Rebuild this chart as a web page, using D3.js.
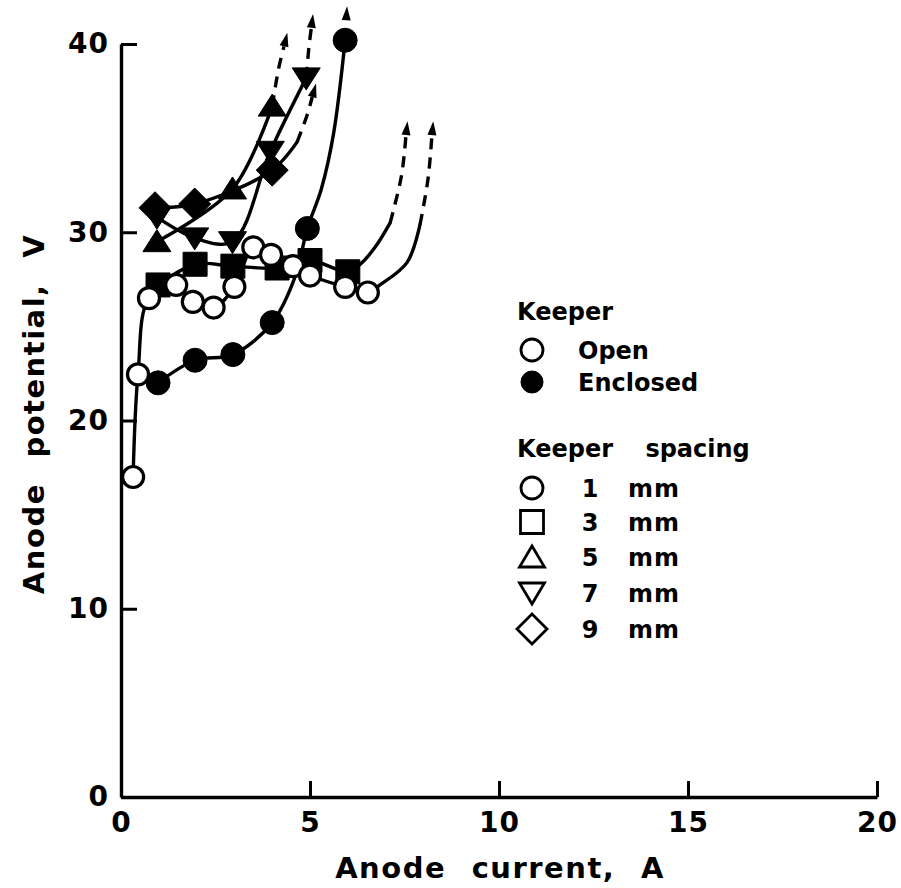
<!DOCTYPE html>
<html>
<head>
<meta charset="utf-8">
<script src="https://cdn.jsdelivr.net/npm/d3@7"></script>
<style>
  body { margin: 0; background: #fff; }
  svg { display: block; }
  text { font-family: "DejaVu Sans", sans-serif; font-weight: bold; fill: #000; }
</style>
</head>
<body>
<svg id="chart" width="901" height="888"></svg>
<script>
// ---- axis ticks ----
const xTicks = [0, 5, 10, 15, 20];
const yTicks = [0, 10, 20, 30, 40];

// ---- measured points: [anode current A, anode potential V] ----
// open keeper, 1 mm spacing
const open1mm = [[0.32,17.0],[0.45,22.45],[0.74,26.5],[1.46,27.2],[1.9,26.3],[2.45,26.0],[3.0,27.1],
                 [3.5,29.2],[3.97,28.8],[4.55,28.2],[5.0,27.7],[5.93,27.1],[6.53,26.8]];
// enclosed keeper, 1 mm spacing
const enclosed1mm = [[0.98,22.0],[1.96,23.2],[2.96,23.5],[4.0,25.2],[4.93,30.2],[5.93,40.2]];
// enclosed keeper, 3 mm spacing
const enclosed3mm = [[0.98,27.2],[1.96,28.3],[2.96,28.2],[4.13,28.1],[5.0,28.5],[6.0,27.9]];
// enclosed keeper, 5 mm spacing
const enclosed5mm = [[0.95,29.5],[2.95,32.3],[4.0,36.7]];
// enclosed keeper, 7 mm spacing
const enclosed7mm = [[0.95,30.8],[1.95,29.7],[2.95,29.5],[3.95,34.3],[4.9,38.2]];
// enclosed keeper, 9 mm spacing
const enclosed9mm = [[0.9,31.3],[1.95,31.5],[4.0,33.3]];

// ---- faired curves (solid) and their extrapolations (dashed, ending in an arrow) ----
const open1mmCurve = open1mm.concat([[6.85,27.2],[7.57,28.4],[7.91,30.4]]);
const open1mmExtra = [[7.91,30.4],[8.12,32.8],[8.26,35.9]];
const enclosed1mmCurve = [[0.98,22.0],[1.96,23.2],[2.96,23.5],[4.0,25.2],[4.6,27.6],[4.93,30.2],
                          [5.3,32.3],[5.62,35.2],[5.93,40.2]];
const enclosed1mmExtra = [[5.95,41.0],[5.98,42.0]];
const enclosed3mmCurve = enclosed3mm.concat([[6.33,28.3],[6.72,29.2],[7.12,30.5]]);
const enclosed3mmExtra = [[7.12,30.5],[7.42,33.0],[7.58,35.9]];
const enclosed5mmCurve = enclosed5mm;
const enclosed5mmExtra = [[4.0,36.7],[4.17,38.7],[4.4,40.6]];
const enclosed7mmCurve = enclosed7mm;
const enclosed7mmExtra = [[4.9,38.2],[4.97,39.8],[5.08,41.6]];
const enclosed9mmCurve = enclosed9mm.concat([[4.66,34.8]]);
const enclosed9mmExtra = [[4.66,34.8],[4.92,36.2],[5.16,37.9]];

// ---- legend ----
const keeperTitle = "Keeper";
const keeperLabels = ["Open", "Enclosed"];
const spacingTitle = "Keeper spacing";
const spacingValues = ["1", "3", "5", "7", "9"];
const spacingUnit = "mm";
const xTitle = "Anode current, A";
const yTitle = "Anode potential, V";

// ---- layout ----
const svg = d3.select("#chart");
const x = d3.scaleLinear().domain([0, 20]).range([121, 877]);
const y = d3.scaleLinear().domain([0, 40]).range([797, 44]);

// marker shapes, centred on the origin
function shape(kind, fill) {
  switch (kind) {
    case "circle": { const r = fill ? 12 : 10.5; return d3.symbol(d3.symbolCircle, Math.PI * r * r)(); }
    case "square": return "M-12,-12H12V12H-12Z";
    case "up": return "M0,-12L14,10L-14,10Z";
    case "down": return "M0,12L14,-10L-14,-10Z";
    case "diamond": return "M0,-16L16,0L0,16L-16,0Z";
  }
}

// axes
const yAxis = d3.axisLeft(y).tickValues(yTicks).tickSizeInner(-16).tickSizeOuter(0).tickPadding(12);
const xAxis = d3.axisBottom(x).tickValues(xTicks).tickSizeInner(-16).tickSizeOuter(0).tickPadding(15);

const gy = svg.append("g").attr("transform", `translate(${x(0)},0)`).call(yAxis);
const gx = svg.append("g").attr("transform", `translate(0,${y(0)})`).call(xAxis);
[gx, gy].forEach(g => {
  g.selectAll("path.domain").attr("stroke", "#000").attr("stroke-width", 3.4);
  g.selectAll(".tick line").attr("stroke", "#000").attr("stroke-width", 3);
  g.selectAll(".tick text").attr("font-family", "DejaVu Sans").attr("font-weight", "bold")
    .attr("font-size", 28).attr("letter-spacing", 1).attr("fill", "#000");
});

svg.append("text").attr("x", 500).attr("y", 878).attr("text-anchor", "middle")
  .attr("font-size", 29).attr("letter-spacing", 1.5).attr("word-spacing", 14).text(xTitle);
svg.append("text").attr("transform", "translate(44,414) rotate(-90)").attr("text-anchor", "middle")
  .attr("font-size", 29).attr("letter-spacing", 1.5).attr("word-spacing", 14).text(yTitle);

// curves
const curve = d3.line().x(d => x(d[0])).y(d => y(d[1])).curve(d3.curveCatmullRom.alpha(0.5));
const plot = svg.append("g");

function drawSeries(curvePts, extraPts) {
  plot.append("path").attr("d", curve(curvePts)).attr("fill", "none")
    .attr("stroke", "#000").attr("stroke-width", 3.4).attr("stroke-linecap", "round");
  const n = extraPts.length;
  const tip = extraPts[n - 1], prev = extraPts[n - 2];
  const tx = x(tip[0]), ty = y(tip[1]);
  const ang = Math.atan2(ty - y(prev[1]), tx - x(prev[0]));
  const L = 14;
  // dashed line stops where the arrowhead begins
  const dashed = extraPts.slice(0, n - 1).map(p => [x(p[0]), y(p[1])]);
  dashed.push([tx - L * Math.cos(ang), ty - L * Math.sin(ang)]);
  if (dashed.length > 2 || Math.hypot(dashed[1][0] - dashed[0][0], dashed[1][1] - dashed[0][1]) > 8) {
    plot.append("path")
      .attr("d", d3.line().curve(d3.curveCatmullRom.alpha(0.5))(dashed))
      .attr("fill", "none").attr("stroke", "#000").attr("stroke-width", 3.4)
      .attr("stroke-dasharray", "11,8");
  }
  const c = Math.cos(ang), s = Math.sin(ang), w = 4.5;
  const bx = tx - L * c, by = ty - L * s;
  plot.append("path")
    .attr("d", `M${tx},${ty}L${bx - w * s},${by + w * c}L${bx + w * s},${by - w * c}Z`)
    .attr("fill", "#000");
}

drawSeries(open1mmCurve, open1mmExtra);
drawSeries(enclosed1mmCurve, enclosed1mmExtra);
drawSeries(enclosed3mmCurve, enclosed3mmExtra);
drawSeries(enclosed5mmCurve, enclosed5mmExtra);
drawSeries(enclosed7mmCurve, enclosed7mmExtra);
drawSeries(enclosed9mmCurve, enclosed9mmExtra);

// markers
function drawMarkers(pts, kind, filled) {
  plot.append("g").selectAll("path").data(pts).join("path")
    .attr("transform", d => `translate(${x(d[0])},${y(d[1])})`)
    .attr("d", shape(kind, filled))
    .attr("fill", filled ? "#000" : "#fff")
    .attr("stroke", "#000").attr("stroke-width", filled ? 1 : 3.2);
}
drawMarkers(enclosed1mm, "circle", true);
drawMarkers(enclosed3mm, "square", true);
drawMarkers(open1mm, "circle", false);
drawMarkers(enclosed9mm, "diamond", true);
drawMarkers(enclosed5mm, "up", true);
drawMarkers(enclosed7mm, "down", true);

// legend
const lg = svg.append("g");
const legFont = 24;
lg.append("text").attr("x", 517).attr("y", 320).attr("font-size", legFont).text(keeperTitle);
keeperLabels.forEach((t, i) => {
  const cy = 350 + i * 32;
  lg.append("path").attr("transform", `translate(532,${cy})`)
    .attr("d", d3.symbol(d3.symbolCircle, Math.PI * 11 * 11)())
    .attr("fill", i ? "#000" : "#fff").attr("stroke", "#000").attr("stroke-width", i ? 1 : 2.8);
  lg.append("text").attr("x", 578).attr("y", cy + 9).attr("font-size", legFont).text(t);
});
lg.append("text").attr("x", 517).attr("y", 457).attr("font-size", legFont)
  .attr("word-spacing", 24).text(spacingTitle);
const legendShapes = ["circle", "square", "up", "down", "diamond"];
const legendShapeD = {
  circle: d3.symbol(d3.symbolCircle, Math.PI * 11 * 11)(),
  square: "M-11.5,-11.5H11.5V11.5H-11.5Z",
  up: "M0,-11L12.5,10L-12.5,10Z",
  down: "M0,11L12.5,-10L-12.5,-10Z",
  diamond: "M0,-15L15,0L0,15L-15,0Z"
};
spacingValues.forEach((v, i) => {
  const cy = [488, 522, 557, 593, 629][i];
  lg.append("path").attr("transform", `translate(532,${cy})`).attr("d", legendShapeD[legendShapes[i]])
    .attr("fill", "#fff").attr("stroke", "#000").attr("stroke-width", 2.8);
  lg.append("text").attr("x", 590).attr("y", cy + 9).attr("text-anchor", "middle")
    .attr("font-size", legFont).text(v);
  lg.append("text").attr("x", 628).attr("y", cy + 9).attr("font-size", legFont).attr("letter-spacing", 1).text(spacingUnit);
});
</script>
</body>
</html>
